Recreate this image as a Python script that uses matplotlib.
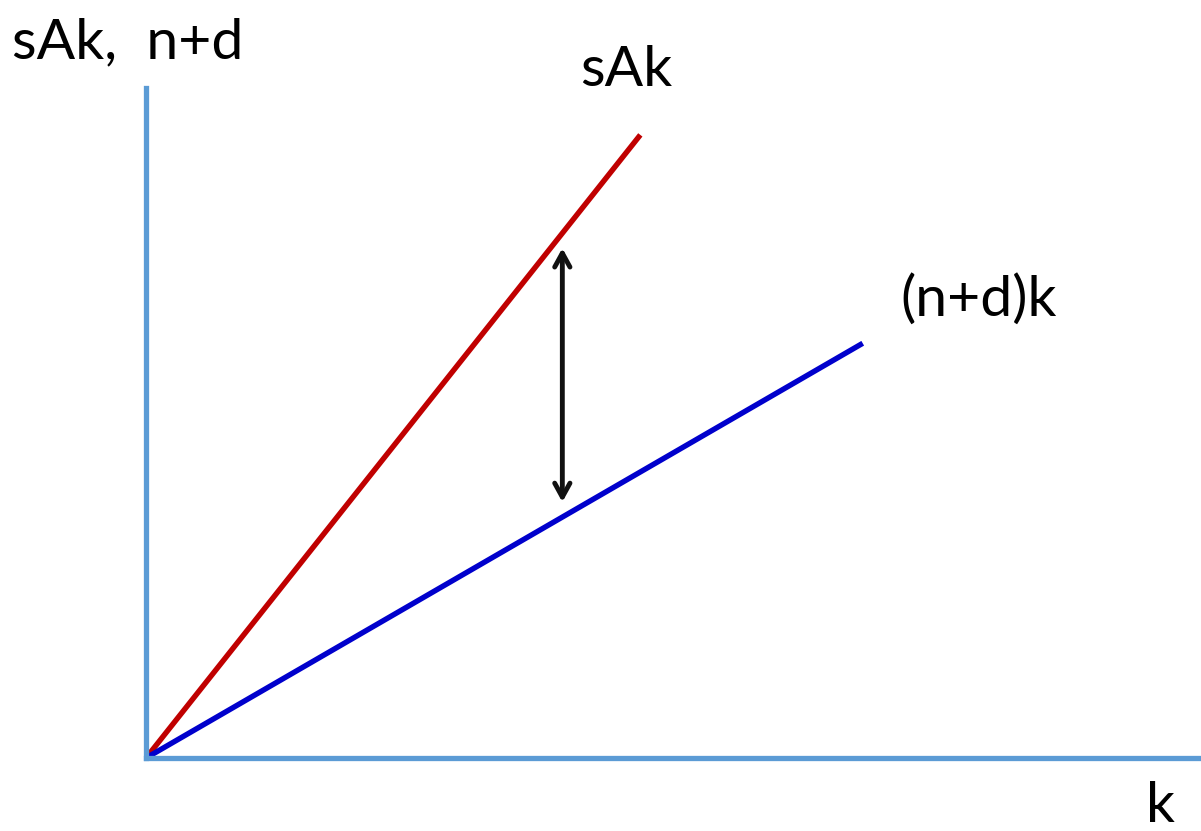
import matplotlib
matplotlib.use("Agg")
import matplotlib.pyplot as plt

# Line end points in axis units (origin is the corner of the axes)
k_end = [4.69, 6.80]          # sAk, (n+d)k
y_end = [9.30, 6.19]
line_colors = ["#C00000", "#0000CC"]
line_labels = ["sAk", "(n+d)k"]

# Gap arrow between the two curves
arrow_k = 3.95
arrow_top = 7.61
arrow_bottom = 3.82

plt.rcParams["font.family"] = ["Lato", "DejaVu Sans"]

W, H = 1201, 831
fig = plt.figure(figsize=(W / 100, H / 100), dpi=100)
ax = fig.add_axes([146 / W, 73 / H, (1200 - 146) / W, (758 - 88) / H])
ax.set_xlim(0, 10)
ax.set_ylim(0, 10)

axis_blue = "#5B9BD5"
for side in ["top", "right"]:
    ax.spines[side].set_visible(False)
for side in ["left", "bottom"]:
    ax.spines[side].set_color(axis_blue)
    ax.spines[side].set_linewidth(3.8)
ax.set_xticks([])
ax.set_yticks([])

for ke, ye, c in zip(k_end, y_end, line_colors):
    ax.plot([0, ke], [0, ye], color=c, lw=3.9, solid_capstyle="butt", clip_on=False)

ax.annotate("", xy=(arrow_k, arrow_top), xytext=(arrow_k, arrow_bottom),
            arrowprops=dict(arrowstyle="<->,head_length=1.0,head_width=0.55",
                            color="#111111", lw=3.5, shrinkA=0, shrinkB=0))

fs = 41
fig.text(12 / W, 1 - 58 / H, "sAk,  n+d", fontsize=fs, ha="left", va="baseline")
fig.text(580 / W, 1 - 86 / H, line_labels[0], fontsize=fs, ha="left", va="baseline")
fig.text(900 / W, 1 - 316 / H, line_labels[1], fontsize=fs, ha="left", va="baseline")
fig.text(1146 / W, 1 - 822 / H, "k", fontsize=fs, ha="left", va="baseline")

fig.savefig("out.png", dpi=100, facecolor="white")
